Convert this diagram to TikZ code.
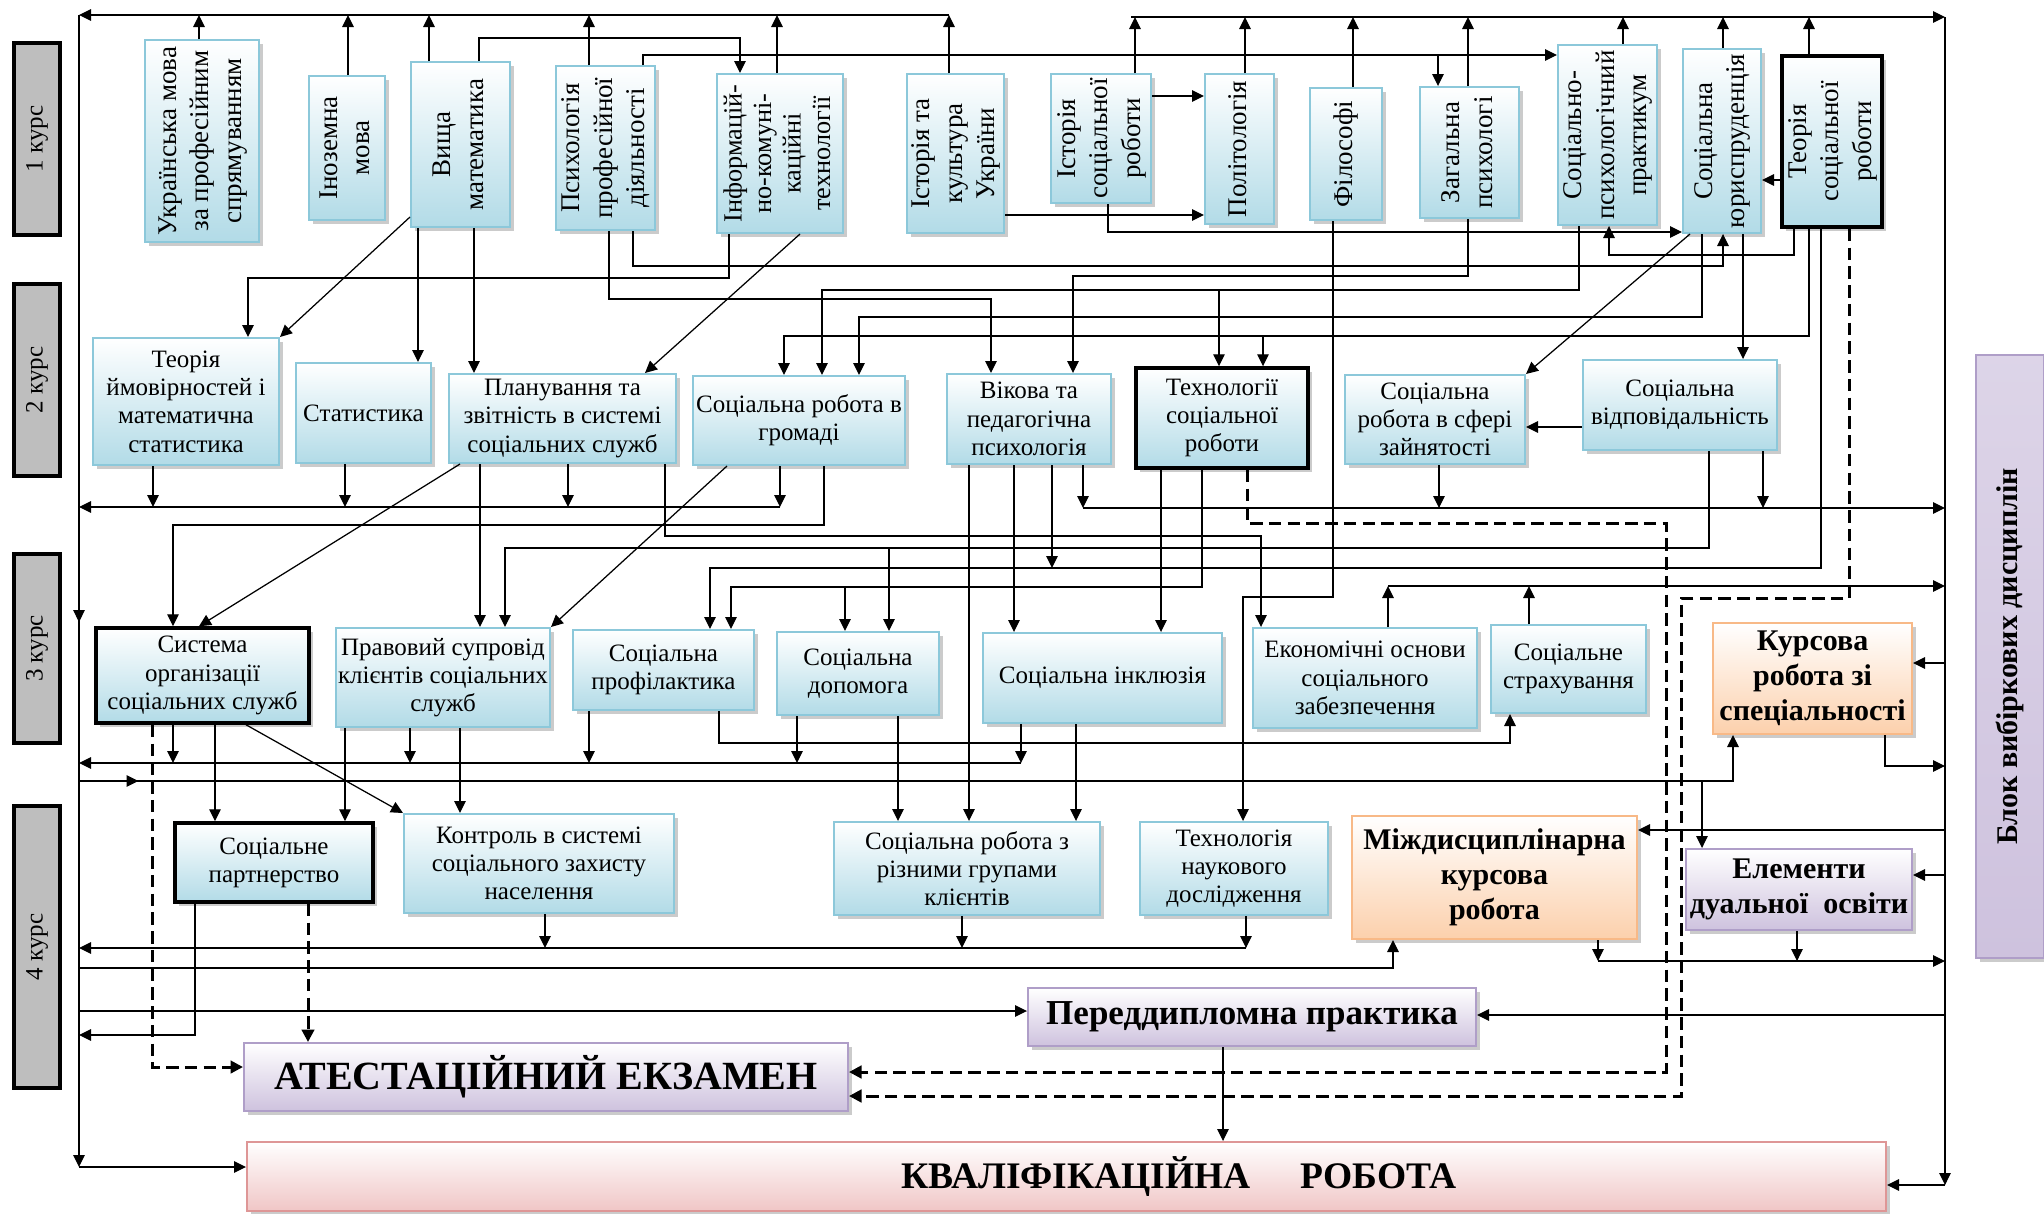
\documentclass[tikz,border=0pt]{standalone}
\usepackage{fontspec}
\setmainfont{Liberation Serif}
\usepackage{graphicx}
\usetikzlibrary{arrows.meta,shadows,decorations.markings}
\definecolor{subjline}{RGB}{140,200,218}
\definecolor{subjfill}{RGB}{178,219,231}
\definecolor{orline}{RGB}{248,185,135}
\definecolor{orfill}{RGB}{252,208,172}
\definecolor{lvline}{RGB}{175,158,200}
\definecolor{lvfill}{RGB}{206,194,222}
\definecolor{pkline}{RGB}{222,150,150}
\definecolor{pkfill}{RGB}{240,198,198}
\definecolor{crsfill}{RGB}{190,190,190}
\newcommand\rottext[1]{\rotatebox{90}{\begin{tabular}{@{}c@{}}#1\end{tabular}}}
\tikzset{%
  spot/.style n args={4}{at={({(#1+#3)/2},{(#2+#4)/2})}, minimum width={(#3-#1)*0.4pt}, minimum height={(#4-#2)*0.4pt}},
  base/.style={inner sep=0pt, align=center, drop shadow={shadow xshift=1.6pt,shadow yshift=-1.6pt,fill=black!40,opacity=.5}},
  subj/.style={base, draw=subjline, line width=.8pt, top color=white, bottom color=subjfill, font=\fontsize{10}{11.3}\selectfont},
  subjT/.style={subj, draw=black, line width=1.4pt},
  vsubj/.style={subj, font=\fontsize{10.8}{13}\selectfont},
  vsubjT/.style={vsubj, draw=black, line width=1.4pt},
  orbox/.style={base, draw=orline, line width=.8pt, top color=white, bottom color=orfill, font=\fontsize{12}{14}\selectfont\bfseries},
  lvbox/.style={base, draw=lvline, line width=.8pt, top color=white, bottom color=lvfill, font=\fontsize{12}{14}\selectfont\bfseries},
  pkbox/.style={base, draw=pkline, line width=.8pt, top color=white, bottom color=pkfill, font=\fontsize{15}{17}\selectfont\bfseries},
  course/.style={draw=black, line width=1.6pt, fill=crsfill, inner sep=0pt, font=\fontsize{10}{12}\selectfont},
  wire/.style={draw=black, line width=.5pt},
  conn/.style={wire, -{Triangle[length=4.8pt,width=4.6pt]}},
  dconn/.style={draw=black, line width=1.2pt, dash pattern=on 5pt off 2.5pt, -{Triangle[length=5pt,width=5pt]}},
  midarrow/.style={postaction={decorate},decoration={markings,mark=at position #1 with {\arrow{Triangle[length=4.8pt,width=4.6pt]}}}}
}

\begin{document}
\begin{tikzpicture}[x=0.4pt,y=-0.4pt]
  \path[use as bounding box, fill=white] (0,0) rectangle (2044,1213);

  % courses
  \node[course, spot={14}{43}{60}{235}] (c1) {\rotatebox{90}{1 курс}};
  \node[course, spot={14}{284}{60}{476}] (c2) {\rotatebox{90}{2 курс}};
  \node[course, spot={14}{554}{60}{743}] (c3) {\rotatebox{90}{3 курс}};
  \node[course, spot={14}{806}{60}{1088}] (c4) {\rotatebox{90}{4 курс}};

  % 1 course
  \node[vsubj, spot={145}{40}{259}{242}] (ukr) {\rottext{Українська мова\\за професійним\\спрямуванням}};
  \node[vsubj, spot={309}{76}{385}{220}] (ino) {\rottext{Іноземна\\мова}};
  \node[vsubj, spot={411}{62}{510}{227}] (vysh) {\rottext{Вища\\математика}};
  \node[vsubj, spot={556}{66}{655}{230}] (psyprof) {\rottext{Психологія\\професійної\\діяльності}};
  \node[vsubj, font=\fontsize{10.5}{11.8}\selectfont, spot={717}{74}{843}{233}] (inform) {\rottext{Інформацій-\\но-комуні-\\каційні\\технології}};
  \node[vsubj, spot={907}{74}{1004}{233}] (istukr) {\rottext{Історія та\\культура\\України}};
  \node[vsubj, spot={1051}{74}{1151}{203}] (istsr) {\rottext{Історія\\соціальної\\роботи}};
  \node[vsubj, spot={1205}{74}{1274}{224}] (polit) {\rottext{Політологія}};
  \node[vsubj, spot={1310}{88}{1382}{220}] (filos) {\rottext{Філософі}};
  \node[vsubj, spot={1420}{87}{1519}{218}] (zagps) {\rottext{Загальна\\психологі}};
  \node[vsubj, spot={1558}{45}{1657}{225}] (sppr) {\rottext{Соціально-\\психологічний\\практикум}};
  \node[vsubj, spot={1683}{49}{1761}{233}] (yur) {\rottext{Соціальна\\юриспруденція}};
  \node[vsubjT, spot={1782}{56}{1882}{227}] (tsr) {\rottext{Теорія\\соціальної\\роботи}};

  % 2 course
  \node[subj, spot={93}{338}{279}{465}] (tim) {Теорія\\ймовірностей і\\математична\\статистика};
  \node[subj, spot={296}{363}{431}{463}] (stat) {Статистика};
  \node[subj, spot={449}{374}{676}{463}] (plan) {Планування та\\звітність в системі\\соціальних служб};
  \node[subj, spot={693}{376}{905}{465}] (grom) {Соціальна робота в\\громаді};
  \node[subj, spot={947}{374}{1111}{464}] (vik) {Вікова та\\педагогічна\\психологія};
  \node[subjT, spot={1136}{368}{1308}{468}] (tech) {Технології\\соціальної\\роботи};
  \node[subj, spot={1345}{375}{1525}{464}] (zain) {Соціальна\\робота в сфері\\зайнятості};
  \node[subj, spot={1583}{360}{1777}{450}] (vidp) {Соціальна\\відповідальність};

  % 3 course
  \node[subjT, spot={96}{628}{309}{723}] (sys) {Система\\організації\\соціальних служб};
  \node[subj, spot={336}{628}{550}{727}] (prav) {Правовий супровід\\клієнтів соціальних\\служб};
  \node[subj, spot={573}{630}{754}{710}] (prof) {Соціальна\\профілактика};
  \node[subj, spot={777}{632}{939}{715}] (dop) {Соціальна\\допомога};
  \node[subj, spot={983}{633}{1222}{723}] (inkl) {Соціальна інклюзія};
  \node[subj, spot={1253}{628}{1477}{728}] (econ) {Економічні основи\\соціального\\забезпечення};
  \node[subj, spot={1491}{625}{1646}{713}] (strah) {Соціальне\\страхування};
  \node[orbox, spot={1713}{623}{1912}{734}] (kurs) {Курсова\\робота зі\\спеціальності};

  % 4 course
  \node[subjT, spot={175}{823}{373}{902}] (part) {Соціальне\\партнерство};
  \node[subj, spot={404}{814}{674}{913}] (kontr) {Контроль в системі\\соціального захисту\\населення};
  \node[subj, spot={834}{822}{1100}{915}] (grup) {Соціальна робота з\\різними групами\\клієнтів};
  \node[subj, spot={1140}{822}{1328}{915}] (nauk) {Технологія\\наукового\\дослідження};
  \node[orbox, spot={1352}{816}{1637}{939}] (mizh) {Міждисциплінарна\\курсова\\робота};
  \node[lvbox, spot={1686}{849}{1912}{930}] (dual) {Елементи\\дуальної\ \ освіти};
  \node[lvbox, font=\fontsize{14}{16}\selectfont\bfseries, spot={1028}{988}{1476}{1046}] (pered) {Переддипломна практика};
  \node[lvbox, font=\fontsize{16}{18}\selectfont\bfseries, spot={244}{1043}{848}{1111}] (atest) {АТЕСТАЦІЙНИЙ ЕКЗАМЕН};
  \node[pkbox, spot={247}{1142}{1886}{1211}] (kval) {\hspace*{90pt}КВАЛІФІКАЦІЙНА\hspace{20pt}РОБОТА};
  \node[lvbox, top color=lvfill!70, spot={1976}{355}{2044}{958}] (blok) {\rotatebox{90}{Блок вибіркових дисциплін}};

  % side lines
  \coordinate (ltop) at (79,15);
  \coordinate (lbot) at (79,1167);
  \coordinate (rtop) at (1945,17);
  \coordinate (rbot) at (1945,1185);
  \draw[conn, midarrow=0.527] (ltop) -- (lbot);
  \draw[conn] (lbot) -- (kval.west |- lbot);
  \draw[conn] (rtop) -- (rbot);
  \draw[conn] (rbot) -- (kval.east |- rbot);

  % top buses
  \draw[conn] (ukr.north-|199,0) -- (199,15);
  \draw[conn] (ino.north-|348,0) -- (348,15);
  \draw[conn] (vysh.north-|429,0) -- (429,15);
  \draw[conn] (psyprof.north-|589,0) -- (589,15);
  \draw[conn] (inform.north-|777,0) -- (777,15);
  \draw[conn] (istukr.north-|949,0) -- (949,15);
  \draw[conn] (949,15) -- (ltop);
  \draw[conn] (istsr.north-|1135,0) -- (1135,17);
  \draw[conn] (polit.north-|1245,0) -- (1245,17);
  \draw[conn] (filos.north-|1353,0) -- (1353,17);
  \draw[conn] (zagps.north-|1468,0) -- (1468,17);
  \draw[conn] (sppr.north-|1623,0) -- (1623,17);
  \draw[conn] (yur.north-|1723,0) -- (1723,17);
  \draw[conn] (tsr.north-|1809,0) -- (1809,17);
  \draw[conn] (1131,17) -- (rtop);

  % inside 1 course
  \draw[conn] (vysh.north-|479,0) |- (740,38) -- (inform.north-|740,0);
  \draw[conn] (psyprof.north-|643,0) |- (sppr.west|-0,55);
  \draw[conn] (1438,55) -- (zagps.north-|1438,0);
  \draw[conn] (istsr.east|-0,96) -- (polit.west|-0,96);
  \draw[conn] (istukr.east|-0,215) -- (polit.west|-0,215);
  \draw[conn] (istsr.south-|1108,0) |- (yur.west|-0,232);
  \draw[conn] (tsr.west|-0,180) -- (yur.east|-0,180);
  \draw[conn] (tsr.south-|1794,0) |- (1609,255) -- (sppr.south-|1609,0);
  \draw[conn] (psyprof.south-|633,0) |- (1723,266) -- (yur.south-|1723,0);

  % 1 course -> 2 course
  \draw[conn] (vysh.west|-0,217) -- (tim.north east);
  \draw[conn] (inform.south-|729,0) |- (248,278) -- (tim.north-|248,0);
  \draw[conn] (vysh.south-|418,0) -- (stat.north-|418,0);
  \draw[conn] (vysh.south-|474,0) -- (plan.north-|474,0);
  \draw[conn] (inform.south-|800,0) -- (plan.north-|645,0);
  \draw[conn] (psyprof.south-|609,0) |- (991,299) -- (vik.north-|991,0);
  \draw[conn] (zagps.south-|1468,0) |- (1073,276) -- (vik.north-|1073,0);
  \draw[conn] (sppr.south-|1579,0) |- (822,290) -- (grom.north-|822,0);
  \draw[conn] (1219,290) -- (tech.north-|1219,0);
  \draw[conn] (yur.south-|1702,0) |- (859,317) -- (grom.north-|859,0);
  \draw[conn] (tsr.south-|1809,0) |- (784,336) -- (grom.north-|784,0);
  \draw[conn] (1263,336) -- (tech.north-|1263,0);
  \draw[conn] (yur.south-|1743,0) -- (vidp.north-|1743,0);
  \draw[conn] (yur.south-|1690,0) -- (zain.north east);
  \draw[conn] (vidp.west|-0,427) -- (zain.east|-0,427);
  \draw[conn] (filos.south-|1333,0) |- (1243,597) -- (nauk.north-|1243,0);
  \draw[conn] (tsr.south-|1821,0) |- (710,568) -- (prof.north-|710,0);
  \draw[dconn] (tsr.south-|1849,0) |- (1681,598) |- (atest.east|-0,1096);
  \draw[dconn] (tech.south-|1247,0) |- (1666,523) |- (atest.east|-0,1072);

  % 2 course buses
  \draw[conn] (tim.south-|153,0) -- (153,507);
  \draw[conn] (stat.south-|345,0) -- (345,507);
  \draw[conn] (plan.south-|568,0) -- (568,507);
  \draw[conn] (grom.south-|780,0) -- (780,507);
  \draw[conn] (780,507) -- (ltop|-0,507);
  \draw[conn] (vik.south-|1083,0) -- (1083,508);
  \draw[conn] (zain.south-|1439,0) -- (1439,508);
  \draw[conn] (vidp.south-|1763,0) -- (1763,508);
  \draw[conn] (1083,508) -- (rtop|-0,508);

  % 2 course -> 3 course
  \draw[conn] (plan.south-|460,0) -- (sys.north-|199,0);
  \draw[conn] (plan.south-|480,0) -- (prav.north-|480,0);
  \draw[conn] (plan.south-|665,0) |- (1261,536) -- (econ.north-|1261,0);
  \draw[conn] (grom.south-|824,0) |- (173,525) -- (sys.north-|173,0);
  \draw[conn] (grom.south-|727,0) -- (prav.north east);
  \draw[conn] (vidp.south-|1709,0) |- (505,548) -- (prav.north-|505,0);
  \draw[conn] (889,548) -- (dop.north-|889,0);
  \draw[conn] (vik.south-|969,0) -- (grup.north-|969,0);
  \draw[conn] (vik.south-|1014,0) -- (inkl.north-|1014,0);
  \draw[conn] (vik.south-|1052,0) -- (1052,568);
  \draw[conn] (tech.south-|1161,0) -- (inkl.north-|1161,0);
  \draw[conn] (tech.south-|1202,0) |- (731,587) -- (prof.north-|731,0);
  \draw[conn] (845,587) -- (dop.north-|845,0);

  % 3 course
  \draw[conn] (econ.north-|1388,0) -- (1388,586);
  \draw[conn] (strah.north-|1529,0) -- (1529,586);
  \draw[conn] (1388,586) -- (rtop|-0,586);
  \draw[conn] (prof.south-|719,0) |- (1510,743) -- (strah.south-|1510,0);
  \draw[conn] (sys.south-|173,0) -- (173,763);
  \draw[conn] (prav.south-|410,0) -- (410,763);
  \draw[conn] (prof.south-|589,0) -- (589,763);
  \draw[conn] (dop.south-|797,0) -- (797,763);
  \draw[conn] (inkl.south-|1021,0) -- (1021,763);
  \draw[conn] (1021,763) -- (ltop|-0,763);
  \draw[conn, midarrow=0.035] (ltop|-0,781) -| (kurs.south-|1733,0);
  \draw[conn] (1702,781) -- (dual.north-|1702,0);
  \draw[conn] (rtop|-0,663) -- (kurs.east|-0,663);
  \draw[conn] (kurs.south-|1885,0) |- (rtop|-0,766);

  % 3 course -> 4 course
  \draw[conn] (sys.south-|215,0) -- (part.north-|215,0);
  \draw[conn] (sys.south-|246,0) -- (kontr.north west);
  \draw[dconn] (sys.south-|152,0) |- (atest.west|-0,1067);
  \draw[conn] (prav.south-|345,0) -- (part.north-|345,0);
  \draw[conn] (prav.south-|460,0) -- (kontr.north-|460,0);
  \draw[conn] (dop.south-|898,0) -- (grup.north-|898,0);
  \draw[conn] (inkl.south-|1076,0) -- (grup.north-|1076,0);

  % 4 course
  \draw[conn] (rtop|-0,830) -- (mizh.east|-0,830);
  \draw[conn] (rtop|-0,875) -- (dual.east|-0,875);
  \draw[conn] (kontr.south-|545,0) -- (545,948);
  \draw[conn] (grup.south-|962,0) -- (962,948);
  \draw[conn] (nauk.south-|1246,0) -- (1246,948);
  \draw[conn] (1246,948) -- (ltop|-0,948);
  \draw[conn] (ltop|-0,968) -| (mizh.south-|1393,0);
  \draw[conn] (mizh.south-|1598,0) -- (1598,961);
  \draw[conn] (dual.south-|1797,0) -- (1797,961);
  \draw[conn] (1598,961) -- (rtop|-0,961);
  \draw[conn] (ltop|-0,1011) -- (pered.west|-0,1011);
  \draw[conn] (rtop|-0,1015) -- (pered.east|-0,1015);
  \draw[conn] (pered.south-|1223,0) -- (kval.north-|1223,0);
  \draw[conn] (part.south-|195,0) |- (ltop|-0,1035);
  \draw[dconn] (part.south-|308,0) -- (atest.north-|308,0);
\end{tikzpicture}
\end{document}
